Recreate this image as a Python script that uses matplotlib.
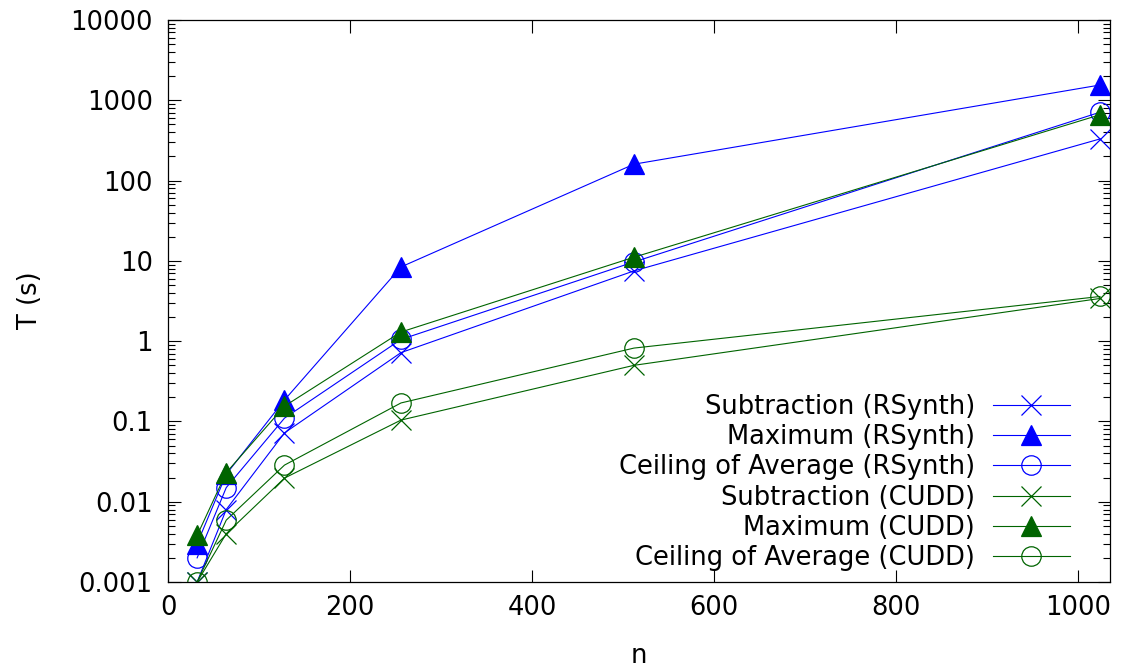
import matplotlib
matplotlib.use("Agg")
from matplotlib import pyplot as plt
from matplotlib.ticker import LogLocator, NullFormatter, FixedLocator

# problem sizes
n = [32, 64, 128, 256, 512, 1024]

# running times in seconds
sub_rsynth = [0.001, 0.008, 0.072, 0.72, 7.5, 330]
max_rsynth = [0.003, 0.022, 0.185, 8.4, 160, 1550]
ceil_rsynth = [0.002, 0.015, 0.11, 1.05, 9.7, 710]
sub_cudd = [0.001, 0.004, 0.0197, 0.104, 0.50, 3.4]
max_cudd = [0.0038, 0.023, 0.155, 1.3, 11.1, 660]
ceil_cudd = [0.001, 0.0059, 0.0286, 0.17, 0.82, 3.6]

y_ticks = [0.001, 0.01, 0.1, 1, 10, 100, 1000, 10000]
y_tick_labels = ["0.001", "0.01", "0.1", "1", "10", "100", "1000", "10000"]
x_ticks = [0, 200, 400, 600, 800, 1000]

BLUE = "#0000ff"
GREEN = "#006400"

series = [
    ("Subtraction (RSynth)", sub_rsynth, BLUE, "x"),
    ("Maximum (RSynth)", max_rsynth, BLUE, "^"),
    ("Ceiling of Average (RSynth)", ceil_rsynth, BLUE, "o"),
    ("Subtraction (CUDD)", sub_cudd, GREEN, "x"),
    ("Maximum (CUDD)", max_cudd, GREEN, "^"),
    ("Ceiling of Average (CUDD)", ceil_cudd, GREEN, "o"),
]

FS = 18.5
plt.rcParams["font.family"] = ["DejaVu Sans"]
plt.rcParams["font.size"] = FS

fig = plt.figure(figsize=(11.23, 6.71), dpi=100)
ax = fig.add_axes([0.1496, 0.1326, 0.9884 - 0.1496, 0.9702 - 0.1326])

for label, values, color, marker in series:
    filled = marker == "^"
    ax.plot(n, values, color=color, linewidth=0.8, marker=marker,
            markersize=14, markeredgewidth=0.9,
            markerfacecolor=color if filled else "none",
            markeredgecolor=color, label=label)

ax.set_yscale("log")
ax.set_xlim(0, 1035)
ax.set_ylim(0.001, 10000)

ax.yaxis.set_major_locator(FixedLocator(y_ticks))
ax.set_yticklabels(y_tick_labels)
ax.yaxis.set_minor_locator(LogLocator(base=10, subs=range(2, 10), numticks=20))
ax.yaxis.set_minor_formatter(NullFormatter())
ax.set_xticks(x_ticks)

ax.tick_params(which="both", direction="in", top=True, right=True,
               labelsize=FS)
ax.tick_params(axis="y", pad=11)
ax.tick_params(axis="x", pad=9)
ax.tick_params(which="major", length=9, width=0.8)
ax.tick_params(which="minor", length=5, width=0.8)
for spine in ax.spines.values():
    spine.set_linewidth(0.9)

ax.set_xlabel("n", labelpad=16)
fig.text(30 / 1123, 1 - 300 / 671, "T (s)", rotation=90,
         ha="center", va="center", fontsize=FS)

ax.legend(loc="lower right", bbox_to_anchor=(0.9575, 0.02),
          frameon=False, markerfirst=False,
          handlelength=3.0, labelspacing=0.16, handletextpad=0.7,
          borderaxespad=0.0, borderpad=0.0, fontsize=FS)

fig.savefig("out.png", dpi=100)
